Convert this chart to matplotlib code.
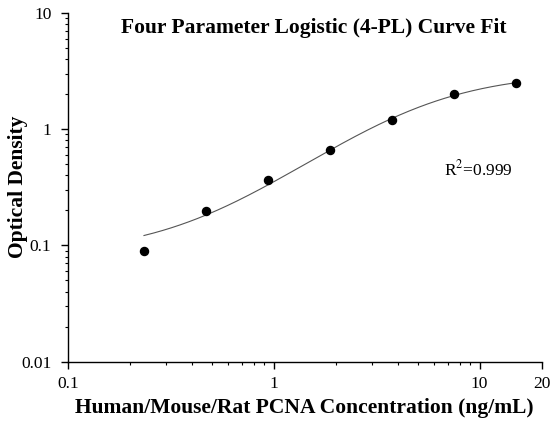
import numpy as np
import matplotlib
matplotlib.use("Agg")
import matplotlib.pyplot as plt
from matplotlib.ticker import LogLocator, NullFormatter, FixedLocator, FixedFormatter

# Data
conc = [0.234, 0.469, 0.938, 1.875, 3.75, 7.5, 15.0]
od = [0.089, 0.196, 0.364, 0.664, 1.186, 1.984, 2.485]
x_ticks = [0.1, 1, 10, 20]
x_tick_labels = ["0.1", "1", "10", "20"]
y_ticks = [0.01, 0.1, 1, 10]
y_tick_labels = ["0.01", "0.1", "1", "10"]
title = "Four Parameter Logistic (4-PL) Curve Fit"
xlabel = "Human/Mouse/Rat PCNA Concentration (ng/mL)"
ylabel = "Optical Density"
r2_text = "R$^2$=0.999"


def fourpl(x, p):
    A, B, C, D = p
    return D + (A - D) / (1.0 + (x / C) ** B)


def fit_4pl(x, y, p0):
    p = np.array(p0, dtype=float)
    lam = 1e-3
    for _ in range(500):
        r = y - fourpl(x, p)
        J = np.zeros((len(x), 4))
        for i in range(4):
            dp = np.zeros(4)
            dp[i] = 1e-6 * max(abs(p[i]), 1e-3)
            J[:, i] = (fourpl(x, p + dp) - fourpl(x, p - dp)) / (2 * dp[i])
        H = J.T @ J
        g = J.T @ r
        step = np.linalg.solve(H + lam * np.diag(np.diag(H)), g)
        pn = p + step
        if pn[2] > 0 and np.sum((y - fourpl(x, pn)) ** 2) < np.sum(r ** 2):
            p = pn
            lam *= 0.5
        else:
            lam *= 4
    return p


x = np.array(conc)
y = np.array(od)
params = fit_4pl(x, y, [0.05, 1.2, 3.0, 3.0])

plt.rcParams['font.family'] = ['Liberation Serif', 'DejaVu Serif']
plt.rcParams['mathtext.fontset'] = 'stix'

fig = plt.figure(figsize=(5.51, 4.23), dpi=100)
ax = fig.add_axes([68 / 551, 1 - 361.7 / 423, (541.5 - 68) / 551, (361.7 - 12.7) / 423])

xs = np.logspace(np.log10(conc[0]), np.log10(conc[-1]), 300)
ax.plot(xs, fourpl(xs, params), color="#555555", lw=0.8, zorder=2)
ax.plot(conc, od, 'o', color="black", ms=5.8, zorder=3)

ax.set_xscale('log')
ax.set_yscale('log')
ax.set_xlim(0.1, 20)
ax.set_ylim(0.01, 10)

ax.xaxis.set_major_locator(FixedLocator(x_ticks))
ax.xaxis.set_major_formatter(FixedFormatter(x_tick_labels))
ax.xaxis.set_minor_locator(LogLocator(base=10, subs=np.arange(2, 10)))
ax.xaxis.set_minor_formatter(NullFormatter())
ax.yaxis.set_major_locator(FixedLocator(y_ticks))
ax.yaxis.set_major_formatter(FixedFormatter(y_tick_labels))
ax.yaxis.set_minor_locator(LogLocator(base=10, subs=np.arange(2, 10)))
ax.yaxis.set_minor_formatter(NullFormatter())

for s in ['top', 'right']:
    ax.spines[s].set_visible(False)
for s in ['left', 'bottom']:
    ax.spines[s].set_linewidth(1.0)

ax.tick_params(which='major', direction='out', length=5, width=1.0, labelsize=12.5, colors='black')
ax.tick_params(which='minor', direction='out', length=2.5, width=0.8)
ax.tick_params(axis='x', pad=5)
ax.tick_params(axis='y', pad=7)

ax.set_xlabel(xlabel, fontsize=15.5, fontweight='bold')
ax.set_ylabel(ylabel, fontsize=15.5, fontweight='bold')
ax.xaxis.set_label_coords(0.5, (361.7 - 408) / 349.0)
ax.yaxis.set_label_coords((18 - 68) / 473.5, 0.5)
ax.xaxis.label.set_va('center')
ax.yaxis.label.set_va('center')

fig.text(314 / 551, 1 - 28 / 423, title, ha='center', va='center', fontsize=15.5, fontweight='bold')
ax.text(0.866, 0.552, r2_text, transform=ax.transAxes, ha='center', va='center', fontsize=12.5)

fig.savefig("out.png", dpi=100)
